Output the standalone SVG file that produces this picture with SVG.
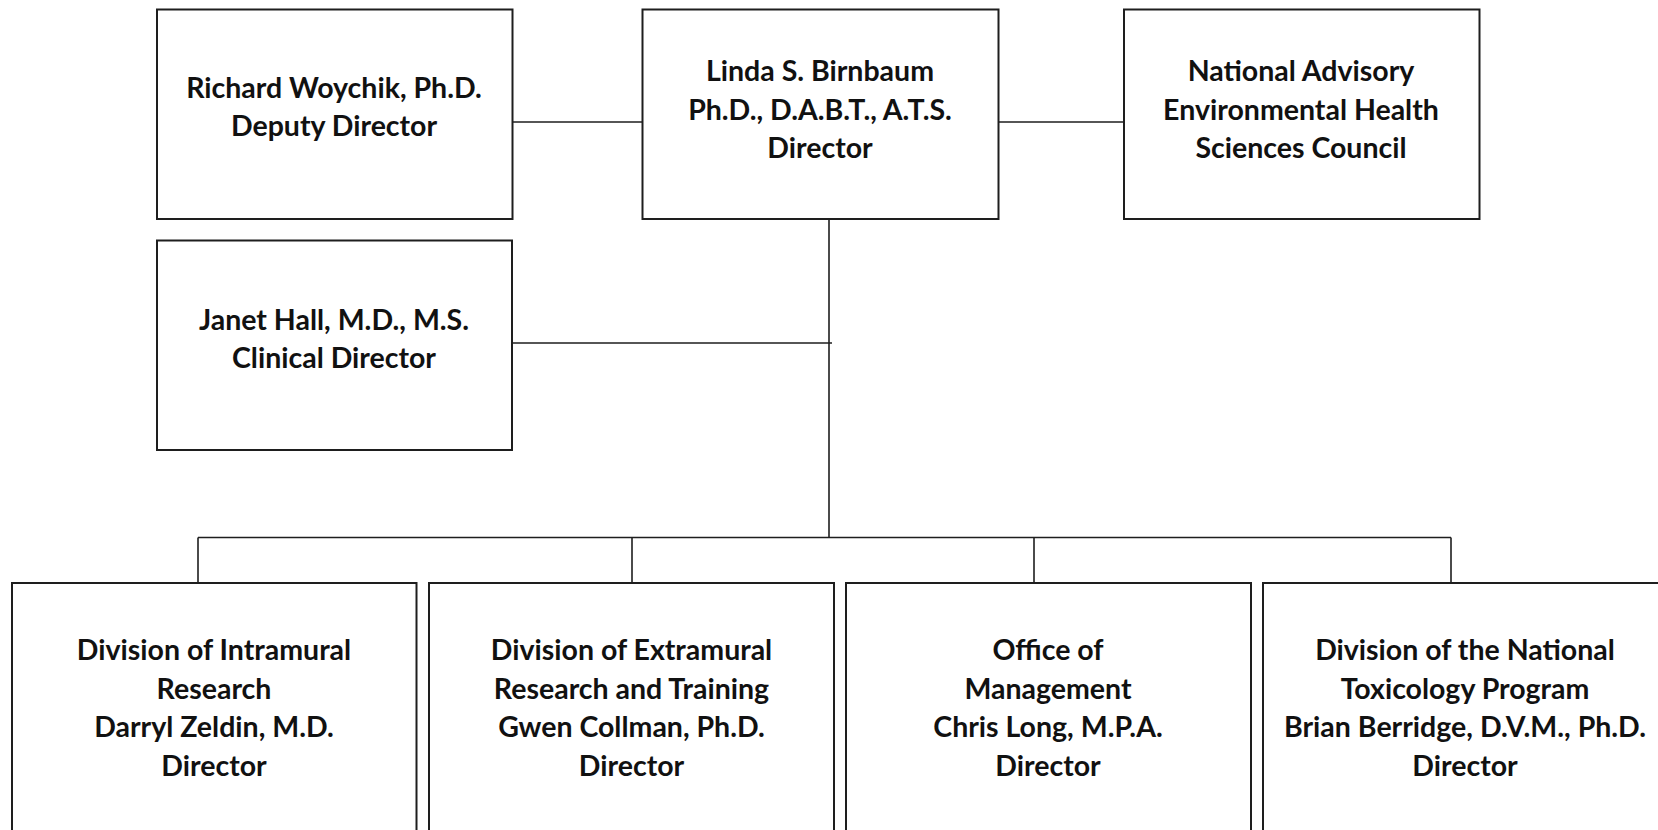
<svg xmlns="http://www.w3.org/2000/svg" width="1658" height="830" viewBox="0 0 1658 830">
<style>
.box{fill:#fff;stroke:#1e1e1e;stroke-width:2}
.ln{stroke:#1e1e1e;stroke-width:1.6;fill:none}
text{font-family:Lato,"Open Sans","Liberation Sans",sans-serif;font-weight:bold;font-size:28.5px;fill:#111;text-anchor:middle}
</style>
<rect width="1658" height="830" fill="#fff"/>
<g id="connectors">
<line class="ln" x1="512.5" y1="122" x2="642.5" y2="122"/>
<line class="ln" x1="998.5" y1="122" x2="1124" y2="122"/>
<line class="ln" x1="829" y1="219" x2="829" y2="537.5"/>
<line class="ln" x1="512" y1="343" x2="832" y2="343"/>
<line class="ln" x1="198" y1="537.5" x2="1451" y2="537.5"/>
<line class="ln" x1="198" y1="537.5" x2="198" y2="583"/>
<line class="ln" x1="632" y1="537.5" x2="632" y2="583"/>
<line class="ln" x1="1034" y1="537.5" x2="1034" y2="583"/>
<line class="ln" x1="1451" y1="537.5" x2="1451" y2="583"/>
</g>
<g id="deputy">
<rect class="box" x="157" y="9.5" width="355.5" height="209.5"/>
<text x="334" y="98">Richard Woychik, Ph.D.</text>
<text x="334" y="135.5">Deputy Director</text>
</g>
<g id="director">
<rect class="box" x="642.5" y="9.5" width="356" height="209.5"/>
<text x="820" y="81">Linda S. Birnbaum</text>
<text x="820" y="119.5">Ph.D., D.A.B.T., A.T.S.</text>
<text x="820" y="158">Director</text>
</g>
<g id="council">
<rect class="box" x="1124" y="9.5" width="355.5" height="209.5"/>
<text x="1301" y="81">National Advisory</text>
<text x="1301" y="119.5">Environmental Health</text>
<text x="1301" y="158">Sciences Council</text>
</g>
<g id="clinical">
<rect class="box" x="157" y="240.5" width="355" height="209.5"/>
<text x="334" y="330">Janet Hall, M.D., M.S.</text>
<text x="334" y="368">Clinical Director</text>
</g>
<g id="dir">
<rect class="box" x="12" y="583" width="404.5" height="260"/>
<text x="214" y="660">Division of Intramural</text>
<text x="214" y="698.5">Research</text>
<text x="214" y="737">Darryl Zeldin, M.D.</text>
<text x="214" y="775.5">Director</text>
</g>
<g id="dert">
<rect class="box" x="429" y="583" width="405" height="260"/>
<text x="631.5" y="660">Division of Extramural</text>
<text x="631.5" y="698.5">Research and Training</text>
<text x="631.5" y="737">Gwen Collman, Ph.D.</text>
<text x="631.5" y="775.5">Director</text>
</g>
<g id="om">
<rect class="box" x="846" y="583" width="405" height="260"/>
<text x="1048" y="660">Office of</text>
<text x="1048" y="698.5">Management</text>
<text x="1048" y="737">Chris Long, M.P.A.</text>
<text x="1048" y="775.5">Director</text>
</g>
<g id="dntp">
<rect class="box" x="1263" y="583" width="405" height="260"/>
<text x="1465" y="660">Division of the National</text>
<text x="1465" y="698.5">Toxicology Program</text>
<text x="1465" y="737">Brian Berridge, D.V.M., Ph.D.</text>
<text x="1465" y="775.5">Director</text>
</g>
</svg>
